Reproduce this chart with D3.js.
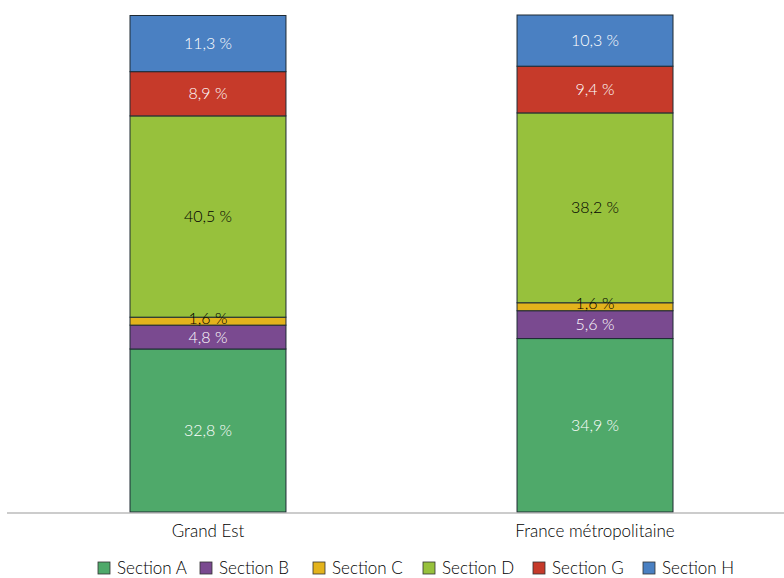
<!DOCTYPE html>
<html>
<head>
<meta charset="utf-8">
<script src="https://cdn.jsdelivr.net/npm/d3@7"></script>
<style>
  body { margin: 0; background: #fff; }
  text { font-family: Lato, "Open Sans", sans-serif; font-weight: 300; }
</style>
</head>
<body>
<script>
var categories = ['Grand Est', 'France métropolitaine']
var sections = ['Section A', 'Section B', 'Section C', 'Section D', 'Section G', 'Section H']
var grandEst = [32.8, 4.8, 1.6, 40.5, 8.9, 11.3]
var franceMetro = [34.9, 5.6, 1.6, 38.2, 9.4, 10.3]
var colors = ['#4fa96a', '#7a4a90', '#e3b31c', '#97c13c', '#c63a2a', '#4a80c2']
var labelColors = ['#fff', '#fff', '#000', '#000', '#fff', '#fff']

var width = 784, height = 578
var svg = d3.select('body').append('svg')
            .attr('width', width)
            .attr('height', height)

var x = d3.scaleBand().domain(categories).range([130, 673]).paddingInner(0.597).paddingOuter(0)
var y = d3.scaleLinear().domain([0, 100]).range([512, 15])

var rows = [grandEst, franceMetro]
var stackData = categories.map(function(c, i){
  var o = {cat: c}
  sections.forEach(function(s, j){ o[s] = rows[i][j] })
  return o
})
var series = d3.stack().keys(sections)(stackData)

// flatten so labels can sit above every rect
var cells = []
series.forEach(function(s, k){
  s.forEach(function(p){ cells.push({p: p, k: k}) })
})

svg.append('g').selectAll('rect')
   .data(cells)
   .enter()
   .append('rect')
   .attr('x', function(d){ return x(d.p.data.cat) })
   .attr('width', x.bandwidth())
   .attr('y', function(d){ return y(d.p[1]) })
   .attr('height', function(d){ return y(d.p[0]) - y(d.p[1]) })
   .attr('fill', function(d){ return colors[d.k] })
   .attr('stroke', '#1e2a33')
   .attr('stroke-width', 1)

svg.append('g').selectAll('text')
   .data(cells)
   .enter()
   .append('text')
   .text(function(d){ return String(d.p.data[sections[d.k]]).replace('.', ',') + ' %' })
   .attr('x', function(d){ return x(d.p.data.cat) + x.bandwidth() / 2 })
   .attr('y', function(d){
     var mid = (y(d.p[0]) + y(d.p[1])) / 2
     return d.k == 2 ? mid - 3 : mid
   })
   .attr('dy', '0.35em')
   .attr('text-anchor', 'middle')
   .attr('font-size', 16)
   .attr('fill', function(d){ return labelColors[d.k] })

// axis line
svg.append('line')
   .attr('x1', 7).attr('x2', 784)
   .attr('y1', 513).attr('y2', 513)
   .attr('stroke', '#999')
   .attr('stroke-width', 1.2)

svg.selectAll('text.cat')
   .data(categories)
   .enter()
   .append('text')
   .attr('class', 'cat')
   .text(function(d){ return d })
   .attr('x', function(d){ return x(d) + x.bandwidth() / 2 })
   .attr('y', 537)
   .attr('text-anchor', 'middle')
   .attr('font-size', 17)
   .attr('fill', '#000')

// legend
var legendX = [98, 200, 313, 423, 533, 643]
var legend = svg.selectAll('g.legend')
                .data(sections)
                .enter()
                .append('g')
                .attr('class', 'legend')
                .attr('transform', function(d, i){ return 'translate(' + legendX[i] + ',562)' })

legend.append('rect')
      .attr('width', 12).attr('height', 12)
      .attr('fill', function(d, i){ return colors[i] })
      .attr('stroke', '#333')
      .attr('stroke-width', 0.8)

legend.append('text')
      .text(function(d){ return d })
      .attr('x', 19)
      .attr('y', 12)
      .attr('font-size', 17)
      .attr('fill', '#000')
</script>
</body>
</html>
